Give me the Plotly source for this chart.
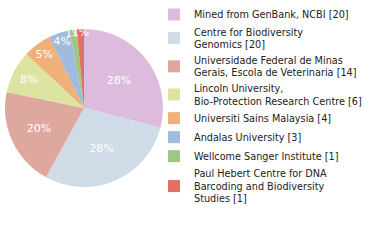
import plotly.graph_objects as go

labels = [
    "Mined from GenBank, NCBI [20]",
    "Centre for Biodiversity<br>Genomics [20]",
    "Universidade Federal de Minas<br>Gerais, Escola de Veterinaria [14]",
    "Lincoln University,<br>Bio-Protection Research Centre [6]",
    "Universiti Sains Malaysia [4]",
    "Andalas University [3]",
    "Wellcome Sanger Institute [1]",
    "Paul Hebert Centre for DNA<br>Barcoding and Biodiversity<br>Studies [1]",
]
values = [20, 20, 14, 6, 4, 3, 1, 1]
colors = ["#ddbbdd", "#cfdbe6", "#dfa89e", "#dde3a0", "#efb07a", "#9fbbdd", "#9ec882", "#e07060"]

total = sum(values)
pct_text = [f"{int(v * 100 // total)}%" for v in values]

fig = go.Figure(go.Pie(
    labels=labels,
    values=values,
    text=pct_text,
    texttemplate="%{text}",
    textposition="inside",
    insidetextorientation="horizontal",
    textfont=dict(family="DejaVu Sans", size=11, color="white"),
    marker=dict(colors=colors, line=dict(width=0)),
    sort=False,
    direction="clockwise",
    rotation=0,
    domain=dict(x=[5 / 380, 163 / 380], y=[53 / 240, 211 / 240]),
    hoverinfo="skip",
))

fig.update_layout(
    width=380, height=240,
    margin=dict(l=0, r=0, t=0, b=0),
    paper_bgcolor="white",
    uniformtext=dict(minsize=11, mode="show"),
    showlegend=True,
    legend=dict(
        x=154 / 380, y=1.0, xanchor="left", yanchor="top",
        font=dict(family="DejaVu Sans", size=9.7, color="#222222"),
        itemwidth=30,
        tracegroupgap=0,
        bgcolor="rgba(0,0,0,0)",
    ),
)

fig.write_html("out.html")
